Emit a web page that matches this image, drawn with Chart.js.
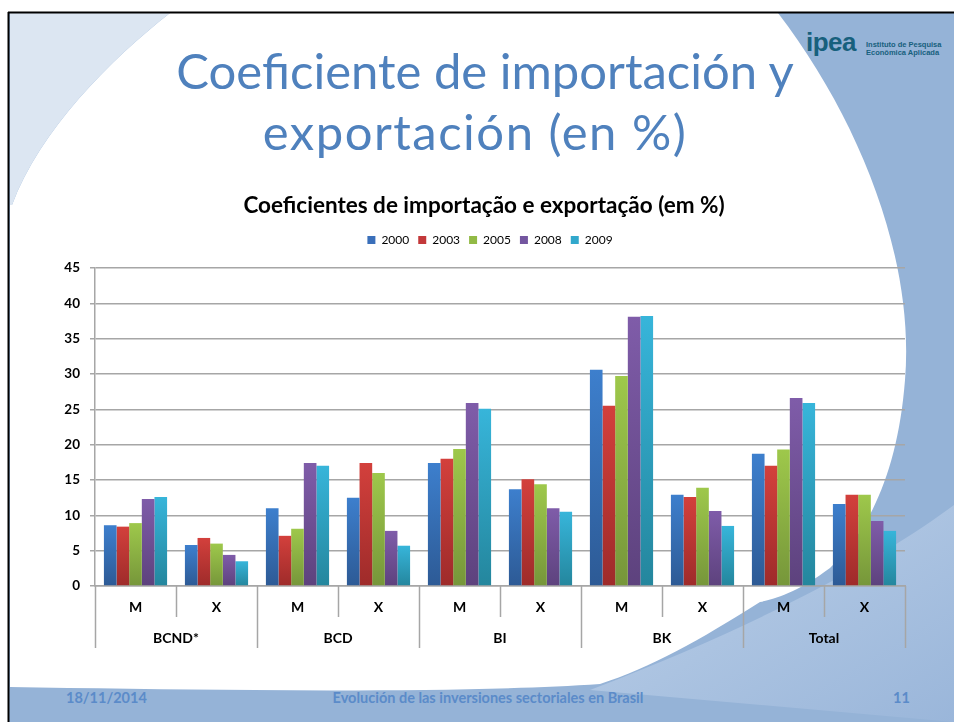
<!DOCTYPE html>
<html>
<head>
<meta charset="utf-8">
<script src="https://cdn.jsdelivr.net/npm/chart.js@4.4.1/dist/chart.umd.min.js"></script>
<style>
  html, body { margin: 0; padding: 0; background: #fff; }
  #slide { position: relative; width: 954px; height: 722px; overflow: hidden; font-family: Lato, "Open Sans", sans-serif; }
  #bg { position: absolute; left: 0; top: 0; }
  .title { position: absolute; left: 0; width: 964px; text-align: center; color: #4f81bd; font-size: 49px; line-height: 1; white-space: nowrap; }
  #logo { position: absolute; left: 806px; top: 27px; color: #17607d; font-family: "Liberation Sans", Arial, sans-serif; font-weight: bold; font-size: 26px; letter-spacing: -0.5px; }
  #logoText { position: absolute; left: 866px; top: 41px; color: #17607d; font-family: "Liberation Sans", Arial, sans-serif; font-weight: bold; font-size: 7.5px; line-height: 8px; }
  .foot { position: absolute; top: 689px; color: #5b8bc9; font-weight: bold; font-size: 14.5px; white-space: nowrap; }
  #chart { position: absolute; left: 10px; top: 180px; }
</style>
</head>
<body>
<div id="slide">
  <svg id="bg" width="954" height="722" viewBox="0 0 954 722">
    <defs>
      <linearGradient id="wave" x1="0" y1="0" x2="1" y2="1">
        <stop offset="0" stop-color="#bcd0e8"/>
        <stop offset="1" stop-color="#9ab6da"/>
      </linearGradient>
    </defs>
    <rect x="9" y="13" width="945" height="709" fill="#95b3d7"/>
    <path d="M954 505 C880 560 760 625 590 690 L954 722 Z" fill="url(#wave)"/>
    <path d="M170 13 L778 13 C860 120 915 260 905 380 C898 470 870 530 830 568 C800 590 780 598 760 602 C700 640 650 668 600 684 C450 694 200 690 10 687 L10 205 L12 205 C40 130 110 60 170 13 Z" fill="#ffffff"/>
    <path d="M10 13 L170 13 C110 60 40 130 12 205 L10 205 Z" fill="#dce6f2"/>
    <line x1="8.5" y1="12" x2="8.5" y2="722" stroke="#000" stroke-width="2"/>
    <line x1="8" y1="12.5" x2="954" y2="12.5" stroke="#000" stroke-width="2"/>
  </svg>
  <div class="title" style="top:46px; left:3px;">Coeficiente de importación y</div>
  <div class="title" style="top:107px; left:-7px; letter-spacing:1.5px;">exportación (en %)</div>
  <div id="logo">ipea</div>
  <div id="logoText">Instituto de Pesquisa<br>Econômica Aplicada</div>
  <canvas id="chart" width="940" height="485"></canvas>
  <div class="foot" style="left:66px;">18/11/2014</div>
  <div class="foot" style="left:0; width:976px; text-align:center;">Evolución de las inversiones sectoriales en Brasil</div>
  <div class="foot" style="left:893px;">11</div>
</div>
<script>
const categories = ['M', 'X', 'M', 'X', 'M', 'X', 'M', 'X', 'M', 'X'];
const groups = ['BCND*', 'BCD', 'BI', 'BK', 'Total'];
const years = ['2000', '2003', '2005', '2008', '2009'];

const v2000 = [8.6, 5.8, 11.0, 12.5, 17.4, 13.7, 30.6, 12.9, 18.7, 11.6];
const v2003 = [8.4, 6.8, 7.1, 17.4, 18.0, 15.1, 25.5, 12.6, 17.0, 12.9];
const v2005 = [8.9, 6.0, 8.1, 16.0, 19.4, 14.4, 29.7, 13.9, 19.3, 12.9];
const v2008 = [12.3, 4.4, 17.4, 7.8, 25.9, 11.0, 38.1, 10.6, 26.6, 9.2];
const v2009 = [12.6, 3.5, 17.0, 5.7, 25.1, 10.5, 38.2, 8.5, 25.9, 7.8];

const yTicks = [0, 5, 10, 15, 20, 25, 30, 35, 40, 45];

// top / bottom of the bar gradient, plus flat legend colour
const palette = [
  ['#3d7fcd', '#2d5a95', '#3a6fba'],
  ['#d3403c', '#9e2b2a', '#c3383a'],
  ['#9ec84b', '#76963a', '#92ba45'],
  ['#7f5ca9', '#5d427d', '#7456a0'],
  ['#37b5da', '#24869d', '#32a8cc'],
];
const series = [v2000, v2003, v2005, v2008, v2009];

function barFill(top, bottom) {
  return (ctx) => {
    const chart = ctx.chart;
    const area = chart.chartArea;
    if (!area || ctx.type !== 'data' || !chart.scales.y) return top;
    const y = chart.scales.y.getPixelForValue(ctx.raw);
    const g = chart.ctx.createLinearGradient(0, y, 0, area.bottom);
    g.addColorStop(0, top);
    g.addColorStop(1, bottom);
    return g;
  };
}

// more room under the legend; title and legend sit a little right of the plot centre
const headerTweak = {
  id: 'headerTweak',
  beforeInit(chart) {
    const fit = chart.legend.fit;
    chart.legend.fit = function () {
      fit.call(this);
      this.height += 12;
    };
  },
  afterLayout(chart) {
    chart.legend.left += 35;
    chart.titleBlock.left += 23;
  },
};

// two-level category axis: M / X, then the sector below
const groupAxis = {
  id: 'groupAxis',
  afterDraw(chart) {
    const x = chart.scales.x;
    const area = chart.chartArea;
    const c = chart.ctx;
    const w = (x.right - x.left) / categories.length;
    c.save();
    c.strokeStyle = '#a6a6a6';
    c.lineWidth = 1.5;
    for (let i = 0; i <= categories.length; i++) {
      const px = Math.round(x.left + i * w) + 0.5;
      const len = i % 2 === 0 ? 62 : 31;
      c.beginPath();
      c.moveTo(px, area.bottom);
      c.lineTo(px, area.bottom + len);
      c.stroke();
    }
    c.fillStyle = '#000';
    c.textAlign = 'center';
    c.textBaseline = 'middle';
    c.font = 'bold 14px Lato, sans-serif';
    categories.forEach((lab, i) => c.fillText(lab, x.getPixelForValue(i), area.bottom + 21));
    groups.forEach((lab, i) => c.fillText(lab, x.left + (2 * i + 1) * w, area.bottom + 52));
    c.restore();
  },
};

new Chart(document.getElementById('chart'), {
  type: 'bar',
  data: {
    labels: categories,
    datasets: years.map((year, i) => ({
      label: year,
      data: series[i],
      backgroundColor: barFill(palette[i][0], palette[i][1]),
      borderWidth: 0,
      barPercentage: 1,
      categoryPercentage: 0.78,
    })),
  },
  options: {
    responsive: false,
    animation: false,
    layout: { padding: { left: 30, right: 45, top: 0, bottom: 17 } },
    plugins: {
      title: {
        display: true,
        text: 'Coeficientes de importação e exportação (em %)',
        color: '#000',
        font: { family: 'Lato', size: 22.5, weight: 'bold' },
        padding: { top: 12, bottom: 6 },
      },
      legend: {
        position: 'top',
        labels: {
          color: '#000',
          font: { family: 'Lato', size: 12 },
          boxWidth: 8,
          boxHeight: 8,
          padding: 9,
          generateLabels: () => years.map((year, i) => ({
            text: year,
            fillStyle: palette[i][2],
            strokeStyle: palette[i][2],
            lineWidth: 0,
            datasetIndex: i,
          })),
        },
      },
      tooltip: { enabled: false },
    },
    scales: {
      x: {
        ticks: { display: false },
        grid: { display: false, drawTicks: false },
        border: { display: true, color: '#a6a6a6', width: 1.5 },
        afterFit: (s) => { s.height = 62; },
      },
      y: {
        min: 0,
        max: 45,
        afterBuildTicks: (s) => { s.ticks = yTicks.map((v) => ({ value: v })); },
        ticks: {
          color: '#000',
          font: { family: 'Lato', size: 13.5, weight: 'bold' },
          padding: 10,
        },
        grid: { color: '#a6a6a6', lineWidth: 1.5, tickLength: 5 },
        border: { color: '#a6a6a6', width: 1.5 },
        afterFit: (s) => { s.width = 55; },
      },
    },
  },
  plugins: [headerTweak, groupAxis],
});
</script>
</body>
</html>
